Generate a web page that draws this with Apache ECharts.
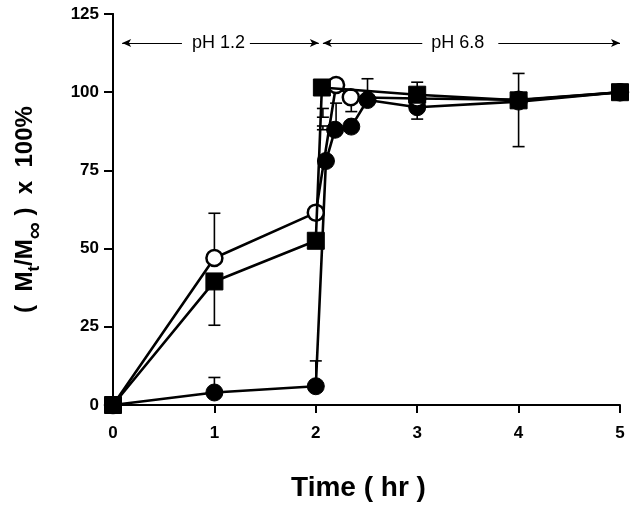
<!DOCTYPE html>
<html><head><meta charset="utf-8">
<script src="https://cdn.jsdelivr.net/npm/echarts@6/dist/echarts.min.js"></script>
<style>html,body{margin:0;padding:0;background:#fff}#c{width:641px;height:509px}</style>
</head><body><div id="c"></div>
<script>
// Data (time in hr, release %)
const filledCircle = [[0,0],[1,4],[2,6],[2.1,78],[2.19,88],[2.35,89],[2.51,97.5],[3,95.2],[4,97],[5,100]];
const openCircle   = [[0,0],[1,47],[2,61.5],[2.2,102.3],[2.345,98.4],[3,98],[4,97.6],[5,100]];
const filledSquare = [[0,0],[1,39.5],[2,52.5],[2.06,101.5],[3,99.2],[4,97.4],[5,100]];
// error bars: [x, low, high]
const errorBars = [[1,47,61.3],[1,25.5,39.5],[1,4,8.8],[2,6,14.1],[2.08,77,79.3],[2.07,88,89.2],[2.07,92,94.8],[2.2,88,96.5],[2.35,93.8,98.4],[2.51,97.5,104.3],[3,91.4,103.2],[4,82.6,106]];
const xTicks = [0,1,2,3,4,5];
const yTicks = [0,25,50,75,100,125];
const phLabels = ['pH 1.2','pH 6.8'];

const chart = echarts.init(document.getElementById('c'), null, {renderer:'canvas'});
const font = 'Helvetica, "Liberation Sans", Arial, sans-serif';
const lineStyle = {color:'#000', width:2.6};
const arrowY = 115.7;
const seg = (a,b,startArrow,endArrow)=>[
  {coord:[a,arrowY], symbol:startArrow?'arrow':'none', symbolSize:[6,9]},
  {coord:[b,arrowY], symbol:endArrow?'arrow':'none', symbolSize:[6,9]}
];
chart.setOption({
  animation:false,
  backgroundColor:'#fff',
  grid:{left:113, right:21, top:14, bottom:104},
  xAxis:{type:'value', min:xTicks[0], max:xTicks[xTicks.length-1], interval:1,
    axisLine:{show:true, onZero:false, lineStyle:{color:'#000', width:2}},
    axisTick:{show:true, inside:false, length:8, lineStyle:{color:'#000', width:2}},
    axisLabel:{color:'#000', fontFamily:font, fontWeight:'bold', fontSize:17, margin:20},
    splitLine:{show:false},
    name:'Time ( hr )', nameLocation:'middle', nameGap:69,
    nameTextStyle:{color:'#000', fontFamily:font, fontWeight:'bold', fontSize:28, padding:[0,16,0,0]}
  },
  yAxis:[{type:'value', min:yTicks[0], max:yTicks[yTicks.length-1], interval:25,
    axisLine:{show:true, onZero:false, lineStyle:{color:'#000', width:2}},
    axisTick:{show:true, inside:false, length:9, lineStyle:{color:'#000', width:2}},
    axisLabel:{color:'#000', fontFamily:font, fontWeight:'bold', fontSize:17, margin:14},
    splitLine:{show:false},
    name:'{m|(  M}{s|t}{m|/M}{i|∞}{m| )  x  100%}', nameLocation:'middle', nameGap:74, nameRotate:90,
    nameTextStyle:{color:'#000', fontFamily:font, fontWeight:'bold', fontSize:24,
      rich:{
        m:{fontFamily:font, fontWeight:'bold', fontSize:24, lineHeight:26, verticalAlign:'top', color:'#000'},
        s:{fontFamily:font, fontWeight:'bold', fontSize:17, lineHeight:17, verticalAlign:'top', padding:[13,0,0,0], color:'#000'},
        i:{fontFamily:font, fontWeight:'bold', fontSize:24, lineHeight:22, verticalAlign:'top', padding:[10,0,0,0], color:'#000'}
      }}
  },{type:'value', position:'right', min:0, max:125, interval:25,
    axisLine:{show:true, lineStyle:{color:'#000', width:2}},
    axisTick:{show:false}, axisLabel:{show:false}, splitLine:{show:false}}],
  series:[
    {type:'custom', name:'err', data:errorBars, z:1,
      renderItem:(params, api)=>{
        const x = api.value(0), lo = api.value(1), hi = api.value(2);
        const p1 = api.coord([x, lo]), p2 = api.coord([x, hi]);
        const w = 6;
        const st = {stroke:'#000', lineWidth:1.6};
        return {type:'group', children:[
          {type:'line', shape:{x1:p1[0], y1:p1[1], x2:p2[0], y2:p2[1]}, style:st},
          {type:'line', shape:{x1:p1[0]-w, y1:p1[1], x2:p1[0]+w, y2:p1[1]}, style:st},
          {type:'line', shape:{x1:p2[0]-w, y1:p2[1], x2:p2[0]+w, y2:p2[1]}, style:st}
        ]};
      },
      markLine:{silent:true, animation:false, lineStyle:{color:'#000', width:1, type:'solid'},
        label:{show:false},
        data:[seg(0.09,0.68,true,false), seg(1.35,2.03,false,true), seg(2.07,3.05,true,false), seg(3.80,5.0,false,true)]
      },
      markPoint:{silent:true, symbol:'circle', symbolSize:0,
        label:{show:true, position:'inside', color:'#000', fontFamily:font, fontSize:18, formatter:p=>p.name},
        data:[{name:phLabels[0], coord:[1.04,arrowY]},{name:phLabels[1], coord:[3.40,arrowY]}]
      }
    },
    {type:'line', name:'filled', data:filledCircle, z:3, symbol:'circle', symbolSize:17,
      lineStyle:lineStyle, itemStyle:{color:'#000', borderColor:'#000'}},
    {type:'line', name:'open', data:openCircle, z:4, symbol:'circle', symbolSize:16,
      lineStyle:lineStyle, itemStyle:{color:'#fff', borderColor:'#000', borderWidth:2.5}},
    {type:'line', name:'square', data:filledSquare, z:5, symbol:'rect', symbolSize:17,
      lineStyle:lineStyle, itemStyle:{color:'#000', borderColor:'#000'}}
  ]
});
</script></body></html>
